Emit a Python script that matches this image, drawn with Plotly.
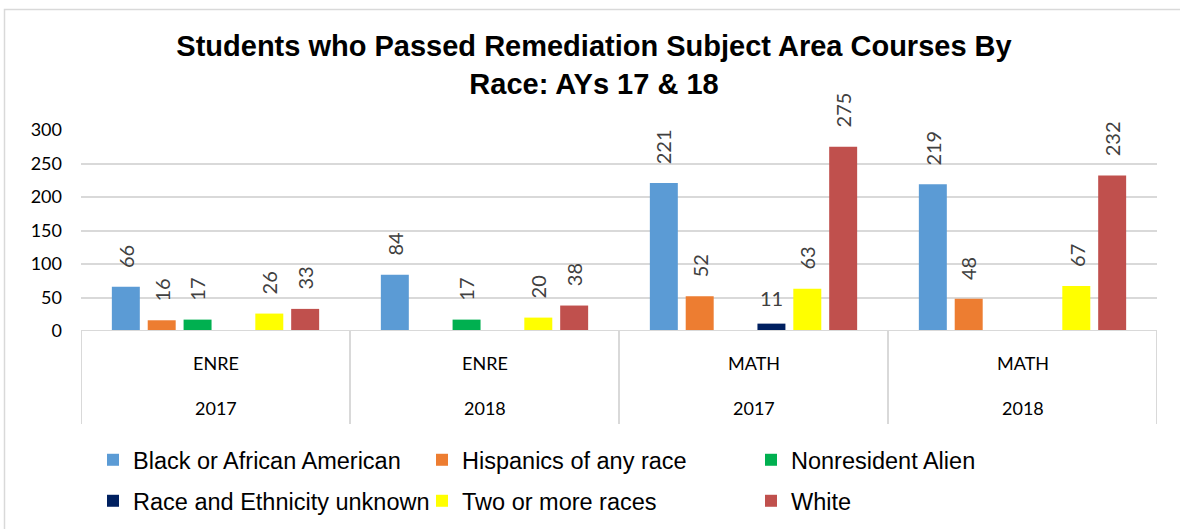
import plotly.graph_objects as go

# ---- data ----
subjects = ["ENRE", "ENRE", "MATH", "MATH"]
years = ["2017", "2018", "2017", "2018"]
series_names = [
    "Black or African American",
    "Hispanics of any race",
    "Nonresident Alien",
    "Race and Ethnicity unknown",
    "Two or more races",
    "White",
]
black = [66, 84, 221, 219]
hispanic = [16, None, 52, 48]
nonresident = [17, 17, None, None]
unknown = [None, None, 11, None]
two_or_more = [26, 20, 63, 67]
white = [33, 38, 275, 232]
y_ticks = [0, 50, 100, 150, 200, 250, 300]

series_values = [black, hispanic, nonresident, unknown, two_or_more, white]
colors = ["#5B9BD5", "#ED7D31", "#00B050", "#002060", "#FFFF00", "#C0504D"]

W, H = 1180, 529
ML, MR, MT, MB = 81, 23, 130, 198
plot_w = W - ML - MR
plot_h = H - MT - MB
BARGAP = 0.2
BARGROUPGAP = 0.22
n = len(series_names)
x_idx = list(range(len(subjects)))

CAL = "Lato, 'Open Sans', sans-serif"
ARIAL = "Arial, 'Liberation Sans', sans-serif"


def py(px):
    return -(px - (H - MB)) / plot_h


def pxr(px):
    return (px - ML) / plot_w


fig = go.Figure()
for k, (name, vals, col) in enumerate(zip(series_names, series_values, colors)):
    fig.add_trace(go.Bar(
        x=x_idx, y=vals, name=name,
        marker=dict(color=col, line=dict(width=0)),
        hoverinfo="skip",
        legend="legend" if k < 3 else "legend2",
    ))

# data labels
slot = (1 - BARGAP) / n
annotations = []
for k, vals in enumerate(series_values):
    off = -(1 - BARGAP) / 2 + (k + 0.5) * slot
    for i, v in enumerate(vals):
        if v is None:
            continue
        horizontal = v < 12  # very short label shown upright in the original
        annotations.append(dict(
            x=i + off, y=v, xref="x", yref="y", text=str(v),
            showarrow=False, yanchor="bottom", xanchor="center",
            textangle=0 if horizontal else -90,
            yshift=12 if horizontal else 17,
            font=dict(family=CAL, size=20, color="#404040"),
        ))

# two-level category labels
for i in x_idx:
    annotations.append(dict(x=i, y=py(363), xref="x", yref="paper", text=subjects[i],
                            showarrow=False, yanchor="middle",
                            font=dict(family=CAL, size=18, color="#000000")))
    annotations.append(dict(x=i, y=py(408), xref="x", yref="paper", text=years[i],
                            showarrow=False, yanchor="middle",
                            font=dict(family=CAL, size=18, color="#000000")))

shapes = []
for b in [i - 0.5 for i in x_idx] + [x_idx[-1] + 0.5]:
    shapes.append(dict(type="line", xref="x", yref="paper", x0=b, x1=b,
                       y0=0, y1=py(424), line=dict(color="#D9D9D9", width=2)))
shapes.append(dict(type="line", xref="paper", yref="y", x0=0, x1=1, y0=0, y1=0,
                   line=dict(color="#D9D9D9", width=2)))
# outer chart border
shapes.append(dict(type="rect", xref="paper", yref="paper",
                   x0=pxr(4.5), x1=pxr(1200), y0=py(560), y1=py(9.5),
                   line=dict(color="#D9D9D9", width=1.5), fillcolor="rgba(0,0,0,0)", layer="below"))

legend_common = dict(orientation="h", xanchor="left", yanchor="middle",
                     entrywidth=284, entrywidthmode="pixels",
                     font=dict(family=ARIAL, size=23.5, color="#000000"),
                     traceorder="normal", bgcolor="rgba(0,0,0,0)")

fig.update_layout(
    width=W, height=H,
    margin=dict(l=ML, r=MR, t=MT, b=MB, autoexpand=False),
    paper_bgcolor="white", plot_bgcolor="white",
    barmode="group", bargap=BARGAP, bargroupgap=BARGROUPGAP,
    title=dict(text="<b>Students who Passed Remediation Subject Area Courses By<br>Race: AYs 17 & 18</b>",
               x=594 / W, xanchor="center", y=1 - 56 / H, yanchor="middle",
               font=dict(family=ARIAL, size=29, color="#000000")),
    xaxis=dict(range=[-0.5, len(subjects) - 0.5], showticklabels=False, showgrid=False,
               zeroline=False, showline=False, fixedrange=True),
    yaxis=dict(range=[0, 300], tickvals=y_ticks, showgrid=True, gridcolor="#D9D9D9", gridwidth=2,
               zeroline=False, showline=False, ticks="", ticklabelstandoff=18,
               tickfont=dict(family=CAL, size=18, color="#000000")),
    showlegend=True,
    legend=dict(x=pxr(93), y=py(460), **legend_common),
    legend2=dict(x=pxr(93), y=py(501), **legend_common),
    annotations=annotations, shapes=shapes,
)

fig.write_html("out.html", config={"displayModeBar": False},
               post_script="document.body.style.margin='0px';")
